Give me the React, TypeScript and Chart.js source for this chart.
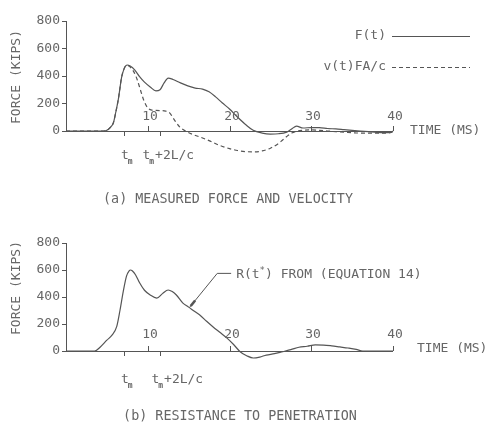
import React, { useEffect, useRef } from 'react';
import { Chart, registerables } from 'chart.js';

Chart.register(...registerables);

// ---------- data ----------
const forceTimes = [0, 4.6, 5.0, 5.4, 5.8, 6.1, 6.4, 6.8, 7.1, 7.3, 7.5, 7.8, 8.4, 9.0, 9.6, 10.3, 11.0, 11.5, 12.0, 12.5, 13.1, 14.0, 14.9, 15.8, 16.7, 17.5, 18.3, 19.1, 20.0, 21.0, 22.0, 22.9, 24.0, 25.0, 26.0, 27.0, 27.6, 28.2, 29.0, 30.0, 31.0, 32.0, 33.0, 34.0, 35.0, 36.0, 37.0, 38.0, 39.0, 39.8, 40];
const forceValues = [0, 0, 5, 25, 60, 140, 230, 390, 452, 473, 480, 474, 445, 395, 355, 320, 292, 300, 350, 385, 375, 350, 328, 312, 305, 285, 248, 205, 160, 100, 45, 5, -15, -22, -20, -8, 15, 35, 22, 25, 25, 18, 15, 10, 5, 0, -5, -10, -12, -8, 0];

const velocityTimes = [0, 4.6, 5.0, 5.4, 5.8, 6.1, 6.4, 6.8, 7.1, 7.3, 7.5, 7.8, 8.3, 8.7, 9.1, 9.5, 10.0, 10.5, 11.0, 11.6, 12.2, 12.7, 13.1, 13.5, 13.9, 14.6, 15.5, 16.4, 17.5, 18.8, 20.0, 21.0, 22.0, 23.0, 24.0, 25.0, 26.0, 26.5, 27.0, 27.6, 28.3, 29.0, 30.0, 31.0, 32.0, 33.0, 34.0, 35.0, 36.0, 37.0, 38.0, 39.0, 39.8, 40];
const velocityValues = [0, 0, 5, 25, 60, 140, 230, 390, 452, 473, 478, 468, 430, 375, 300, 225, 168, 152, 150, 148, 145, 130, 95, 60, 30, 0, -25, -44, -70, -105, -128, -142, -150, -152, -145, -125, -90, -65, -40, -15, 0, 5, 8, 5, 0, -5, -8, -12, -15, -15, -15, -15, -10, 0];

const resistanceTimes = [0, 3.5, 4.2, 5.0, 5.6, 6.2, 6.6, 7.0, 7.4, 7.7, 7.9, 8.1, 8.5, 9.0, 9.6, 10.3, 11.1, 11.8, 12.5, 13.0, 13.5, 14.3, 15.0, 15.8, 16.4, 17.2, 18.0, 18.9, 19.7, 20.5, 21.3, 22.1, 22.9, 23.7, 24.5, 25.5, 26.5, 27.5, 28.5, 29.5, 30.5, 31.5, 32.5, 33.5, 34.5, 35.5, 36.3, 38, 40];
const resistanceValues = [0, 0, 30, 80, 115, 180, 300, 440, 555, 592, 600, 594, 565, 505, 450, 415, 392, 425, 452, 440, 415, 355, 325, 290, 265, 220, 178, 135, 95, 48, -5, -35, -52, -45, -30, -20, -5, 10, 28, 35, 45, 44, 38, 30, 22, 12, 0, 0, 0];

const xTickValues = [10, 20, 30, 40];
const xTickLabels = ['10', '20', '30', '40'];
const timeMarks = [7.1, 11.55]; // t_m, t_m + 2L/c
const yMin = 0;
const yMax = 800;
const yStep = 200;

const legendLabels = ['F(t)', 'v(t)FA/c'];
const yTitle = 'FORCE (KIPS)';
const xTitle = 'TIME (MS)';
const captionA = '(a) MEASURED FORCE AND VELOCITY';
const captionB = '(b) RESISTANCE TO PENETRATION';
const annotationText = ['R(t', '*', ') FROM (EQUATION 14)'];
// leader line anchors for the annotation, in data units [time, kips]
const leaderStart = [15.1, 322];
const leaderBend = [18.5, 575];
const leaderEnd = [20.2, 575];

// ---------- styling ----------
const FONT = '"DejaVu Sans Mono", "Liberation Mono", monospace';
const LINE = '#555';
const TEXT = '#666';

const pts = (ts: number[], vs: number[]) => ts.map((t, i) => ({ x: t, y: vs[i] }));

function textFont(size: number) {
  return `${size}px ${FONT}`;
}

function drawDecor(chart: any, cfg: any) {
  const ctx: CanvasRenderingContext2D = chart.ctx;
  const xs = chart.scales.x;
  const ys = chart.scales.y;
  const y0 = ys.getPixelForValue(0);
  ctx.save();
  ctx.strokeStyle = LINE;
  ctx.fillStyle = TEXT;
  ctx.lineWidth = 1;

  // x axis line
  ctx.beginPath();
  ctx.moveTo(xs.getPixelForValue(0), y0 + 0.5);
  ctx.lineTo(xs.getPixelForValue(40), y0 + 0.5);
  ctx.stroke();

  // up ticks + labels above the axis
  ctx.font = textFont(13);
  ctx.textAlign = 'center';
  ctx.textBaseline = 'middle';
  xTickValues.forEach((v, i) => {
    const px = Math.round(xs.getPixelForValue(v)) + 0.5;
    ctx.beginPath();
    ctx.moveTo(px, y0);
    ctx.lineTo(px, y0 - 5);
    ctx.stroke();
    ctx.fillText(xTickLabels[i], px + 1.5, y0 - cfg.tickLabelOffset);
  });

  // down ticks for t_m and t_m + 2L/c
  timeMarks.forEach((v) => {
    const px = Math.round(xs.getPixelForValue(v)) + 0.5;
    ctx.beginPath();
    ctx.moveTo(px, y0);
    ctx.lineTo(px, y0 + 5);
    ctx.stroke();
  });

  // t_m labels
  const ty = y0 + cfg.tLabelDy;
  const drawT = (x: number, suffix: string) => {
    ctx.textAlign = 'left';
    ctx.font = textFont(13);
    ctx.fillText('t', x, ty);
    let w = ctx.measureText('t').width;
    ctx.font = `bold 8px ${FONT}`;
    ctx.fillText('m', x + w - 1, ty + 6);
    w += ctx.measureText('m').width - 1;
    if (suffix) {
      ctx.font = textFont(13);
      ctx.fillText(suffix, x + w + 1, ty);
    }
  };
  const p1 = xs.getPixelForValue(timeMarks[0]);
  const p2 = xs.getPixelForValue(timeMarks[1]);
  drawT(p1 - 3, '');
  drawT(p2 + cfg.t2Shift, '+2L/c');

  // axis titles
  ctx.font = textFont(13);
  ctx.textAlign = 'left';
  ctx.textBaseline = 'middle';
  ctx.fillText(xTitle, cfg.xTitleX, cfg.xTitleY);

  ctx.save();
  ctx.translate(17, cfg.yTitleY);
  ctx.rotate(-Math.PI / 2);
  ctx.textAlign = 'center';
  ctx.fillText(yTitle, 0, 0);
  ctx.restore();

  // caption
  ctx.font = textFont(13.4);
  ctx.textAlign = 'center';
  ctx.fillText(cfg.caption, cfg.captionX, cfg.captionY);

  if (cfg.legend) {
    ctx.font = textFont(13);
    ctx.textAlign = 'right';
    const rows = [36, 67];
    legendLabels.forEach((lab, i) => {
      ctx.fillText(lab, 386, rows[i]);
      ctx.beginPath();
      ctx.setLineDash(i === 0 ? [] : [4, 3]);
      ctx.moveTo(392, rows[i] + 0.5);
      ctx.lineTo(470, rows[i] + 0.5);
      ctx.stroke();
    });
    ctx.setLineDash([]);
  }

  if (cfg.annotation) {
    const sx = xs.getPixelForValue(leaderStart[0]);
    const sy = ys.getPixelForValue(leaderStart[1]);
    const bx = xs.getPixelForValue(leaderBend[0]);
    const by = ys.getPixelForValue(leaderBend[1]);
    const ex = xs.getPixelForValue(leaderEnd[0]);
    const ey = ys.getPixelForValue(leaderEnd[1]);
    ctx.beginPath();
    ctx.moveTo(sx, sy);
    ctx.lineTo(bx, by);
    ctx.lineTo(ex, ey);
    ctx.stroke();
    // small arrow mark near the curve
    const dx = bx - sx;
    const dy = by - sy;
    const len = Math.hypot(dx, dy);
    const ux = dx / len;
    const uy = dy / len;
    ctx.lineWidth = 2.6;
    ctx.beginPath();
    ctx.moveTo(sx + ux * 2, sy + uy * 2);
    ctx.lineTo(sx + ux * 9, sy + uy * 9);
    ctx.stroke();
    ctx.lineWidth = 1;

    ctx.font = textFont(13);
    ctx.textAlign = 'left';
    let tx = ex + 5;
    ctx.fillText(annotationText[0], tx, ey + 1);
    tx += ctx.measureText(annotationText[0]).width;
    ctx.font = textFont(9);
    ctx.fillText(annotationText[1], tx, ey - 3);
    tx += ctx.measureText(annotationText[1]).width;
    ctx.font = textFont(13);
    ctx.fillText(annotationText[2], tx, ey + 1);
  }
  ctx.restore();
}

function makeOptions(padTop: number, padBottom: number, cfg: any) {
  return {
    responsive: false,
    animation: false as const,
    layout: { padding: { top: padTop, bottom: padBottom, left: 0, right: 92 } },
    plugins: {
      legend: { display: false },
      tooltip: { enabled: false },
      decor: cfg,
    },
    elements: { point: { radius: 0 } },
    scales: {
      x: { type: 'linear' as const, min: 0, max: 40, display: false },
      y: {
        min: yMin,
        max: yMax,
        ticks: {
          stepSize: yStep,
          color: TEXT,
          font: { family: FONT, size: 13 },
          padding: 2,
        },
        grid: { drawOnChartArea: false, drawTicks: true, tickLength: 4, color: LINE },
        border: { display: true, color: LINE, width: 1 },
        afterFit: (s: any) => {
          s.width = 66;
        },
      },
    },
  };
}

const decorPlugin = {
  id: 'decor',
  afterDraw(chart: any, _args: any, opts: any) {
    drawDecor(chart, opts);
  },
};

const lineStyle = {
  borderColor: LINE,
  borderWidth: 1.2,
  pointRadius: 0,
  cubicInterpolationMode: 'monotone' as const,
  clip: false as const,
  fill: false,
};

export default function App() {
  const topRef = useRef<HTMLCanvasElement>(null);
  const botRef = useRef<HTMLCanvasElement>(null);

  useEffect(() => {
    const top = new Chart(topRef.current!, {
      type: 'line',
      data: {
        datasets: [
          { label: legendLabels[0], data: pts(forceTimes, forceValues), ...lineStyle },
          { label: legendLabels[1], data: pts(velocityTimes, velocityValues), ...lineStyle, borderDash: [4, 3] },
        ],
      },
      options: makeOptions(21, 79, {
        tickLabelOffset: 14,
        tLabelDy: 25,
        t2Shift: -18,
        xTitleX: 410,
        xTitleY: 131,
        yTitleY: 77,
        caption: captionA,
        captionX: 228,
        captionY: 200,
        legend: true,
        annotation: false,
      }) as any,
      plugins: [decorPlugin],
    });
    const bot = new Chart(botRef.current!, {
      type: 'line',
      data: {
        datasets: [
          { label: 'R(t*)', data: pts(resistanceTimes, resistanceValues), ...lineStyle },
        ],
      },
      options: makeOptions(33, 74, {
        tickLabelOffset: 16,
        tLabelDy: 29,
        t2Shift: -9,
        xTitleX: 417,
        xTitleY: 139,
        yTitleY: 78,
        caption: captionB,
        captionX: 240,
        captionY: 207,
        legend: false,
        annotation: true,
      }) as any,
      plugins: [decorPlugin],
    });
    return () => {
      top.destroy();
      bot.destroy();
    };
  }, []);

  return (
    <div style={{ position: 'absolute', left: 0, top: 0, width: 485, height: 425, background: '#fff' }}>
      <canvas ref={topRef} width={485} height={210} style={{ display: 'block', width: 485, height: 210 }} />
      <canvas ref={botRef} width={485} height={215} style={{ display: 'block', width: 485, height: 215 }} />
    </div>
  );
}
